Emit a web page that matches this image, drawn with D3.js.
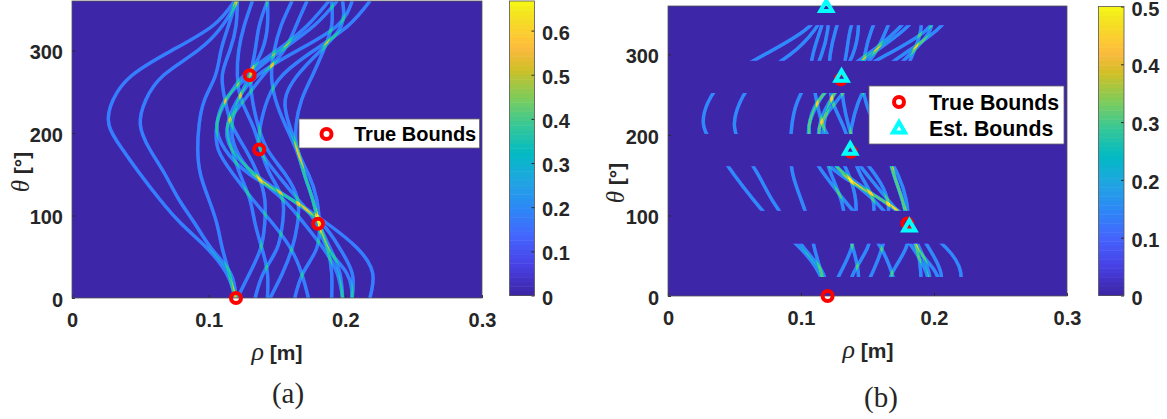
<!DOCTYPE html>
<html><head><meta charset="utf-8">
<script src="https://cdn.jsdelivr.net/npm/d3@7"></script>
<style>html,body{margin:0;background:#fff}svg{display:block}</style></head><body>
<svg id="c" width="1167" height="419" font-family="'Liberation Sans',Arial,sans-serif"></svg>
<script>
const thetaKnots=[0,30,60,90,120,150,180,210,240,270,300,330,360];
const curveA=[.120,.113,.099,.080,.064,.050,.037,.027,.030,.044,.073,.103,.119];
const curveB=[.120,.116,.102,.090,.078,.068,.057,.050,.054,.067,.092,.110,.121];
const curveC=[.119,.115,.110,.106,.100,.094,.092,.093,.097,.105,.109,.1145,.120];
const curveD=[.173,.168,.160,.147,.132,.118,.107,.106,.112,.130,.153,.177,.194];
const curveE=[.198,.194,.184,.170,.154,.133,.120,.117,.122,.130,.139,.143,.143];
const curveF=[.205,.201,.187,.179,.165,.150,.138,.138,.143,.154,.177,.202,.218];
const curveG=[.218,.220,.209,.187,.160,.130,.112,.106,.113,.126,.150,.172,.188];
const curveH=[.205,.205,.196,.183,.160,.134,.117,.114,.126,.140,.155,.164,.172];
const curveI=[.163,.169,.179,.181,.179,.173,.165,.164,.168,.176,.184,.190,.190];
const curveJ=[.198,.196,.189,.181,.176,.170,.165,.159,.156,.165,.182,.197,.198];
const curveK=[.190,.190,.187,.181,.176,.170,.164,.156,.149,.146,.148,.153,.161];
const curveL=[.145,.154,.161,.165,.165,.156,.143,.136,.132,.131,.134,.137,.143];
const curveQ=[.134,.140,.150,.154,.154,.145,.138,.132,.124,.121,.122,.126,.132];
const curveP=[.121,.130,.138,.141,.141,.136,.127,.117,.112,.110,.1155,.120,.121];
const curveR=[.143,.143,.139,.134,.130,.123,.117,.114,.121,.136,.165,.194,.205];
const allCurves=[curveA,curveB,curveC,curveD,curveE,curveF,curveG,curveH,curveI,curveJ,curveK,curveL,curveQ,curveP,curveR];

const bandLow=[23.6,105.8,201,292];
const bandHigh=[65,161,252,336];
const trueBoundsLeft=[[.12,0],[.18,90],[.137,180],[.13,270]];
const trueBoundsRight=[[.12,0],[.18,90],[.1375,179],[.13,269]];
const estBounds=[[.119,358],[.1815,85.5],[.137,181],[.1305,271.5]];
const rhoTicks=[0,.1,.2,.3];
const thetaTicks=[0,100,200,300];
const barTicksLeft=[0,.1,.2,.3,.4,.5,.6];
const barTicksRight=[0,.1,.2,.3,.4,.5];
const parula=["#3e26a8","#4741e5","#4563fd","#2d87f7","#20a5e2","#02bac3","#37c897","#80cc59","#d1bf27","#f8ba3d","#fec338","#f3e61e","#f9fb15"];
const parulaPos=[0,.095,.19,.286,.381,.476,.571,.667,.762,.825,.857,.952,1];
const ink="#262626";

const svg=d3.select("#c");

function colorScale(max){
  return d3.scaleLinear().domain(parulaPos.map(p=>p*max)).range(parula).clamp(true);
}

function heat(o,x,y,col){
  const W=o.r-o.l,H=o.b-o.t;
  const cv=document.createElement("canvas");cv.width=W;cv.height=H;
  const ctx=cv.getContext("2d",{willReadFrequently:true});
  ctx.fillStyle="#000";ctx.fillRect(0,0,W,H);
  ctx.translate(-o.l,-o.t);
  ctx.beginPath();
  o.bands.forEach(b=>ctx.rect(o.l,y(b[1]),W,y(b[0])-y(b[1])));
  ctx.clip();
  ctx.globalCompositeOperation="lighter";
  ctx.filter="blur(0.6px)";
  const g=Math.round(o.level/o.max*255);
  ctx.strokeStyle=`rgb(${g},${g},${g})`;
  ctx.lineWidth=3.4;
  const line=d3.line().x(d=>x(d[0])).y(d=>y(d[1])).curve(d3.curveNatural).context(ctx);
  allCurves.forEach(c=>{ctx.beginPath();line(c.map((r,i)=>[r,thetaKnots[i]]));ctx.stroke();});
  const im=ctx.getImageData(0,0,W,H),lut=d3.range(256).map(i=>d3.rgb(col(i/255*o.max)));
  for(let i=0;i<im.data.length;i+=4){const c=lut[im.data[i]];im.data[i]=c.r;im.data[i+1]=c.g;im.data[i+2]=c.b;im.data[i+3]=255;}
  ctx.putImageData(im,0,0);
  return cv.toDataURL();
}

function panel(o){
  const x=d3.scaleLinear().domain([0,.3]).range([o.l,o.r]);
  const y=d3.scaleLinear().domain([0,360]).range([o.b,o.t]);
  const col=colorScale(o.max);
  const g=svg.append("g");
  g.append("image").attr("x",o.l).attr("y",o.t).attr("width",o.r-o.l).attr("height",o.b-o.t).attr("href",heat(o,x,y,col));
  const ax=g.append("g").attr("transform",`translate(0,${o.b})`).call(d3.axisBottom(x).tickValues(rhoTicks).tickFormat(d=>d===0?"0":d3.format(".1f")(d)).tickSize(-3).tickPadding(14.5));
  const ay=g.append("g").attr("transform",`translate(${o.l},0)`).call(d3.axisLeft(y).tickValues(thetaTicks).tickSize(-3).tickPadding(9));
  [ax,ay].forEach(a=>{a.selectAll("line").attr("stroke",ink);a.select(".domain").remove();
    a.selectAll("text").attr("fill",ink).attr("font-size",20).attr("font-weight","bold").attr("font-family","'Liberation Sans',sans-serif");});
  ay.selectAll("text").attr("dy",".42em");
  g.append("rect").attr("x",o.l).attr("y",o.t).attr("width",o.r-o.l).attr("height",o.b-o.t).attr("fill","none").attr("stroke","#555").attr("stroke-width",.8);
  const xl=g.append("text").attr("x",o.xlab).attr("y",o.b+62).attr("text-anchor","middle").attr("fill",ink).attr("font-size",21).attr("font-weight","bold");
  xl.append("tspan").text("ρ").style("font-family","'Liberation Serif',serif").style("font-style","italic").attr("font-size",26).attr("font-weight","normal");
  xl.append("tspan").text(" [m]");
  const yl=g.append("text").attr("transform",`translate(${o.ylabX},${o.ylabY}) rotate(-90)`).attr("text-anchor","middle").attr("fill",ink).attr("font-size",21).attr("font-weight","bold");
  yl.append("tspan").text("θ").style("font-family","'Liberation Serif',serif").style("font-style","italic").attr("font-size",25).attr("font-weight","normal");
  yl.append("tspan").text(" [°]");
  g.append("text").attr("x",o.capX).attr("y",o.capY).attr("text-anchor","middle").attr("fill",ink)
    .style("font-family","'Liberation Serif',serif").attr("font-size",29).text(o.caption);
  const cy=d3.scaleLinear().domain([0,o.max]).range([o.cb,o.ct]);
  const steps=d3.range(0,64).map(i=>i/64*o.max);
  g.selectAll("rect.s").data(steps).join("rect").attr("class","s")
    .attr("x",o.cl).attr("width",o.cr-o.cl).attr("y",d=>cy(d+o.max/64)).attr("height",d=>cy(d)-cy(d+o.max/64)+.5).attr("fill",d=>col(d));
  const cax=g.append("g").attr("transform",`translate(${o.cr},0)`).call(d3.axisRight(cy).tickValues(o.barTicks).tickFormat(d=>d===0?"0":d3.format(".1f")(d)).tickSize(-3).tickPadding(7.5));
  cax.select(".domain").remove();
  cax.selectAll("line").attr("stroke",ink);
  cax.selectAll("text").attr("fill",ink).attr("font-size",20).attr("font-weight","bold").attr("font-family","'Liberation Sans',sans-serif").attr("dy","0.43em");
  g.append("rect").attr("x",o.cl).attr("y",o.ct).attr("width",o.cr-o.cl).attr("height",o.cb-o.ct).attr("fill","none").attr("stroke","#555").attr("stroke-width",.8);
  return {x,y,g};
}

function ring(g,cx,cy){
  g.append("circle").attr("cx",cx).attr("cy",cy).attr("r",5).attr("fill","none").attr("stroke","#ff0000").attr("stroke-width",4);
}
const triPath=d3.symbol(d3.symbolTriangle,62)();
function tri(g,cx,cy){
  g.append("path").attr("d",triPath).attr("transform",`translate(${cx},${cy})`).attr("fill","none").attr("stroke","#00ffff").attr("stroke-width",4);
}
function legendText(g,px,py,t,fs){
  g.append("text").attr("x",px).attr("y",py).attr("font-size",fs).attr("font-weight","bold").attr("fill","#000").text(t);
}

const L=panel({l:72,r:482,t:1,b:298,max:.667,level:.18,bands:[[0,360]],xlab:277,ylabX:29,ylabY:172,capX:288,capY:403,caption:"(a)",
  cl:509.5,cr:534.5,ct:1,cb:295.5,barTicks:barTicksLeft});
trueBoundsLeft.forEach(d=>ring(L.g,L.x(d[0]),L.y(d[1])));
L.g.append("rect").attr("x",299).attr("y",119).attr("width",180.5).attr("height",29).attr("fill","#fff").attr("stroke","#666").attr("stroke-width",.8);
ring(L.g,326.5,134);
legendText(L.g,354,141,"True Bounds",20);

const R=panel({l:668,r:1067,t:6,b:296,max:.5,level:.15,bands:bandLow.map((b,i)=>[b,bandHigh[i]]),xlab:868,ylabX:624,ylabY:183,capX:881,capY:407,caption:"(b)",
  cl:1098.5,cr:1124,ct:6.5,cb:295.5,barTicks:barTicksRight});
trueBoundsRight.forEach(d=>ring(R.g,R.x(d[0]),R.y(d[1])));
estBounds.forEach(d=>tri(R.g,R.x(d[0]),R.y(d[1])));
R.g.append("rect").attr("x",869).attr("y",86).attr("width",195).attr("height",58).attr("fill","#fff").attr("stroke","#666").attr("stroke-width",.8);
ring(R.g,899,102);
tri(R.g,899,129);
legendText(R.g,929,110,"True Bounds",21.3);
legendText(R.g,929,136,"Est. Bounds",21.3);
</script></body></html>
